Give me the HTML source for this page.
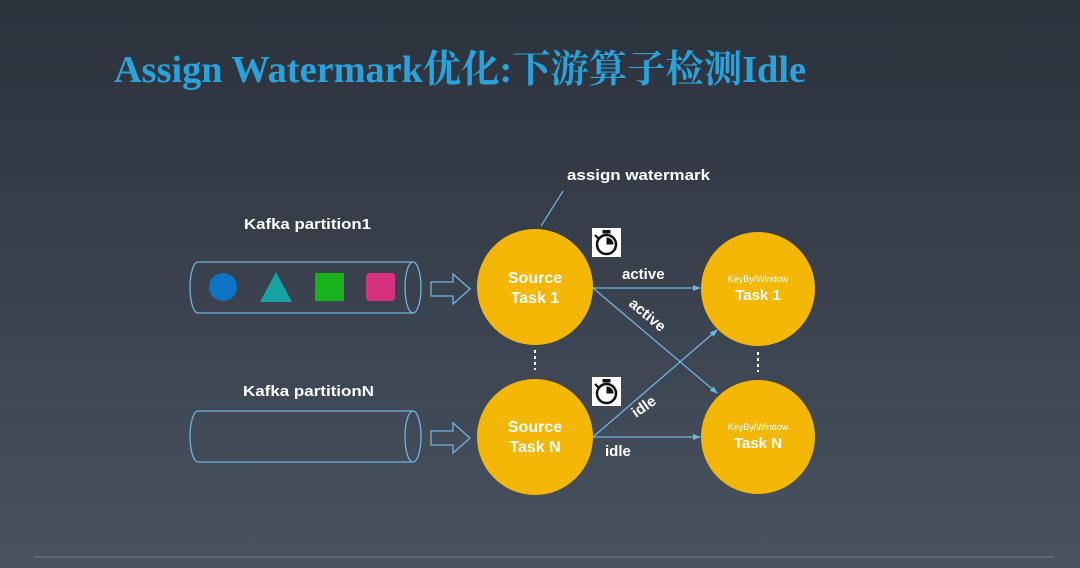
<!DOCTYPE html>
<html><head><meta charset="utf-8"><style>
html,body{margin:0;padding:0;}
body{width:1080px;height:568px;overflow:hidden;background:linear-gradient(#2c323c 0%,#3a434f 55%,#49535f 100%);}
svg{display:block}
</style></head><body>
<svg width="1080" height="568" xmlns="http://www.w3.org/2000/svg" font-family="Liberation Sans, sans-serif">
<defs>
<marker id="ah" markerWidth="8" markerHeight="6" refX="7" refY="3" orient="auto" markerUnits="userSpaceOnUse"><path d="M0,0 L8,3 L0,6 z" fill="#6fb4e0"/></marker>
</defs>
<text x="114" y="82" font-family="Liberation Serif, Noto Serif CJK SC, serif" font-weight="bold" font-size="38" fill="#2aa2db" textLength="692" lengthAdjust="spacingAndGlyphs">Assign Watermark优化:下游算子检测Idle</text>

<text x="567" y="180" font-size="15" font-weight="bold" fill="#fff" textLength="143" lengthAdjust="spacingAndGlyphs">assign watermark</text>
<line x1="563" y1="191" x2="541" y2="226" stroke="#6fb4e0" stroke-width="1.2"/>

<text x="244" y="229" font-size="15" font-weight="bold" fill="#fff" textLength="127" lengthAdjust="spacingAndGlyphs">Kafka partition1</text>
<text x="243" y="396" font-size="15" font-weight="bold" fill="#fff" textLength="131" lengthAdjust="spacingAndGlyphs">Kafka partitionN</text>

<g fill="none" stroke="#6fb4e0" stroke-width="1.3">
<path d="M198,262 L413,262 M198,313 L413,313 M198,262 A8,25.5 0 0 0 198,313"/>
<ellipse cx="413" cy="287.5" rx="8" ry="25.5"/>
<path d="M198,411 L413,411 M198,462 L413,462 M198,411 A8,25.5 0 0 0 198,462"/>
<ellipse cx="413" cy="436.5" rx="8" ry="25.5"/>
</g>
<circle cx="223" cy="287" r="14" fill="#0f74c4"/>
<polygon points="276,272 292,302 260,302" fill="#17a3a3"/>
<rect x="315" y="273" width="29" height="28" fill="#17b21b"/>
<rect x="366" y="273" width="29" height="28" rx="3" fill="#d4327e"/>

<g fill="none" stroke="#6fb4e0" stroke-width="1.3">
<path d="M431,282 L453,282 L453,274 L470,289 L453,304 L453,296 L431,296 Z"/>
<path d="M431,431 L453,431 L453,423 L470,438 L453,453 L453,445 L431,445 Z"/>
</g>

<g stroke="#6fb4e0" stroke-width="1.3" marker-end="url(#ah)">
<line x1="593" y1="288" x2="700" y2="288"/>
<line x1="593" y1="288" x2="717" y2="393"/>
<line x1="593" y1="437" x2="717" y2="330"/>
<line x1="593" y1="437" x2="700" y2="437"/>
</g>

<g fill="#f5b705">
<circle cx="535" cy="287" r="58"/>
<circle cx="535" cy="437" r="58"/>
<circle cx="758" cy="289" r="57"/>
<circle cx="758" cy="437" r="57"/>
</g>
<g fill="#fff" font-weight="bold" text-anchor="middle">
<text x="535" y="283" font-size="16">Source</text>
<text x="535" y="303" font-size="16">Task 1</text>
<text x="535" y="432" font-size="16">Source</text>
<text x="535" y="452" font-size="16">Task N</text>
<text x="758" y="282" font-size="9" font-weight="normal">KeyBy/Window</text>
<text x="758" y="300" font-size="15">Task 1</text>
<text x="758" y="430" font-size="9" font-weight="normal">KeyBy/Window</text>
<text x="758" y="448" font-size="15">Task N</text>
</g>

<g stroke="#fff" stroke-width="2" stroke-dasharray="3,3">
<line x1="535" y1="350" x2="535" y2="370"/>
<line x1="758" y1="352" x2="758" y2="372"/>
</g>

<g fill="#fff" font-weight="bold" font-size="15">
<text x="622" y="279">active</text>
<text x="628" y="305" transform="rotate(40 628 305)">active</text>
<text x="636" y="418" transform="rotate(-35 636 418)">idle</text>
<text x="605" y="456">idle</text>
</g>

<g>
<rect x="592" y="228" width="29" height="29" fill="#fff"/>
<rect x="602.5" y="230" width="8" height="3.5" fill="#111"/>
<line x1="595" y1="235" x2="598.5" y2="238.5" stroke="#111" stroke-width="2.2"/>
<circle cx="606.5" cy="244.5" r="9.5" fill="none" stroke="#111" stroke-width="2.5"/>
<path d="M606.5,244.5 L606.5,237.5 A7,7 0 0 1 613.5,244.5 Z" fill="#111"/>
<rect x="592" y="377" width="29" height="29" fill="#fff"/>
<rect x="602.5" y="379" width="8" height="3.5" fill="#111"/>
<line x1="595" y1="384" x2="598.5" y2="387.5" stroke="#111" stroke-width="2.2"/>
<circle cx="606.5" cy="393.5" r="9.5" fill="none" stroke="#111" stroke-width="2.5"/>
<path d="M606.5,393.5 L606.5,386.5 A7,7 0 0 1 613.5,393.5 Z" fill="#111"/>
</g>

<line x1="34" y1="557" x2="1054" y2="557" stroke="#66717e" stroke-width="1.5"/>
</svg>
</body></html>
